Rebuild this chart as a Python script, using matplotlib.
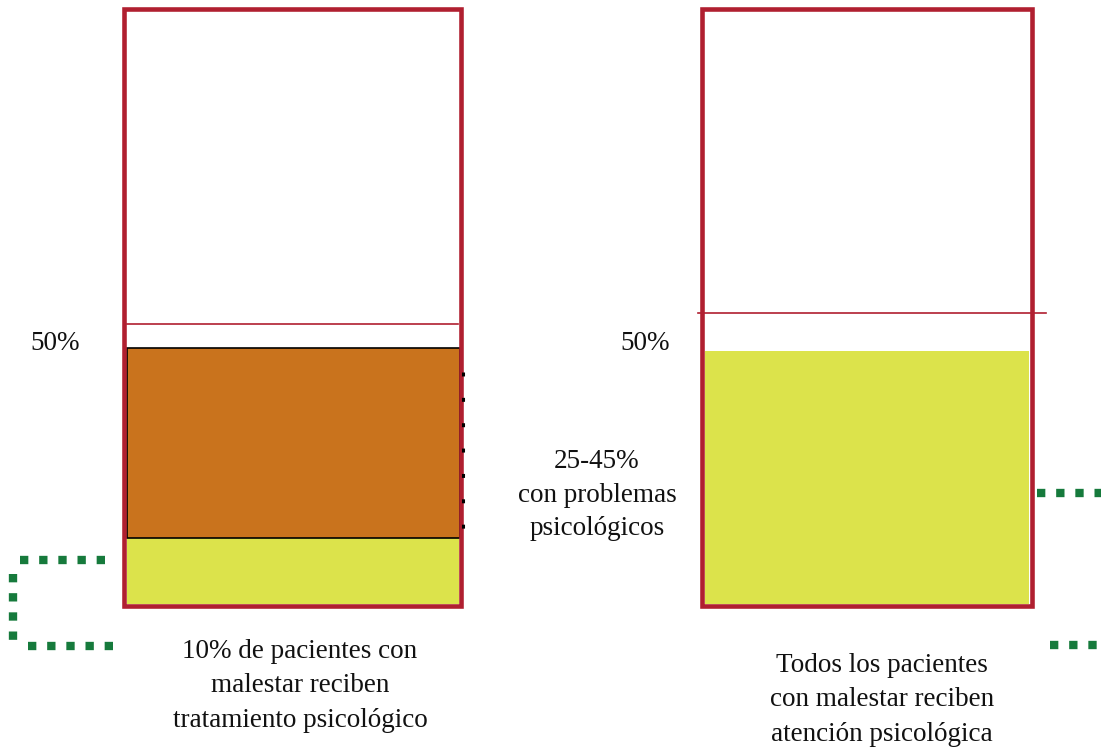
import matplotlib.pyplot as plt
import matplotlib.patches as patches

# box frames (pixel coords: left, top, right, bottom)
boxes = [(124, 9, 461, 606), (702, 9, 1032, 606)]
# 50% reference lines (y, x0, x1)
ref_lines = [(324, 127, 458), (313, 698, 1046)]
# fills: (x0, y_top, x1, y_bottom, color, edge)
fills = [
    (127, 538, 459, 604, '#DCE34B', 'none'),
    (127, 348, 460, 538, '#C9731D', 'black'),
    (705, 351, 1029, 604, '#DCE34B', 'none'),
]
labels_50 = [(55, 343, '50%'), (645, 343, '50%')]
mid_text = '25-45%\ncon problemas\npsicológicos'
captions = [
    (300, 686, '10% de pacientes con\nmalestar reciben\ntratamiento psicológico'),
    (882, 700, 'Todos los pacientes\ncon malestar reciben\natención psicológica'),
]
# green dotted brackets
green_x = [[105, 20], [13, 13], [28, 118], [1037, 1101], [1050, 1101]]
green_y = [[560, 560], [574, 642], [646, 646], [493, 493], [645, 645]]

red = '#B01F30'
green = '#167A3C'

fig = plt.figure(figsize=(11.01, 7.5), dpi=100)
ax = fig.add_axes([0, 0, 1, 1])
ax.set_xlim(0, 1101)
ax.set_ylim(750, 0)
ax.axis('off')

for x0, yt, x1, yb, c, e in fills:
    ax.add_patch(patches.Rectangle((x0, yt), x1 - x0, yb - yt, facecolor=c,
                                   edgecolor=e, linewidth=1.2))

for x0, yt, x1, yb in boxes:
    ax.add_patch(patches.Rectangle((x0, yt), x1 - x0, yb - yt, facecolor='none',
                                   edgecolor=red, linewidth=3.3))

for y, x0, x1 in ref_lines:
    ax.plot([x0, x1], [y, y], color=red, linewidth=1.2)

# black dotted line beside the orange block
ax.plot([463, 463], [372, 532], color='black', linewidth=2.2,
        linestyle=(0, (1.3, 7)), dash_capstyle='butt')

for xs, ys in zip(green_x, green_y):
    ax.plot(xs, ys, color=green, linewidth=6,
            linestyle=(0, (1, 1.3)), dash_capstyle='butt')

font = dict(family='Liberation Serif', fontsize=19.5, color='#111111')
for x, y, t in labels_50:
    ax.text(x, y, t, ha='center', va='center', **font)
ax.text(597, 495, mid_text, ha='center', va='center', linespacing=1.45, **font)
for x, y, t in captions:
    ax.text(x, y, t, ha='center', va='center', linespacing=1.52, **font)

plt.savefig('out.png', dpi=100)
